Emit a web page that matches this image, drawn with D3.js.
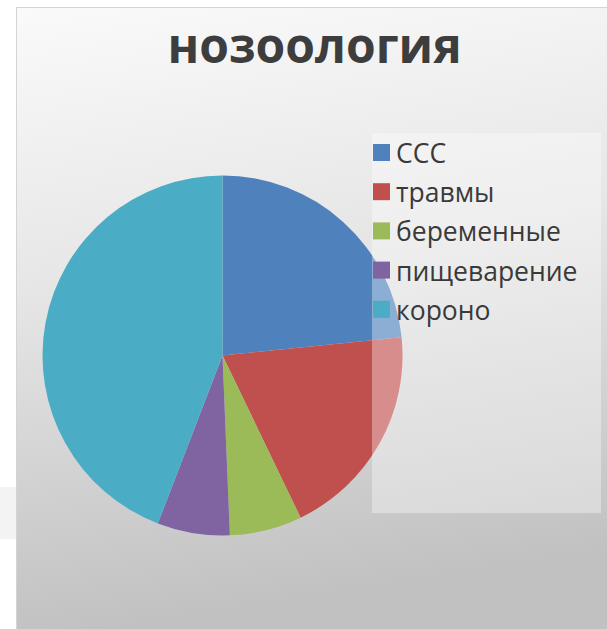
<!DOCTYPE html>
<meta charset="utf-8">
<body style="margin:0;background:#fff">
<script src="https://cdn.jsdelivr.net/npm/d3@7"></script>
<script>
// data
var categories = ["ССС", "травмы", "беременные", "пищеварение", "короно"];
var values = [36, 30, 10, 10, 68];
var colors = ["#4F81BD", "#C0504D", "#9BBB59", "#8064A2", "#4BACC6"];
var title = "нозоология";

var W = 607, H = 629;
var svg = d3.select("body").append("svg")
	.attr("width", W)
	.attr("height", H)
	.style("display", "block");

// background gradient of the chart area
var defs = svg.append("defs");
var grad = defs.append("linearGradient")
	.attr("id", "bg")
	.attr("x1", "0").attr("y1", "0")
	.attr("x2", "0.15").attr("y2", "1");
grad.append("stop").attr("offset", "0%").attr("stop-color", "#fafafa");
grad.append("stop").attr("offset", "45%").attr("stop-color", "#e6e6e6");
grad.append("stop").attr("offset", "100%").attr("stop-color", "#c1c1c1");

// faint band left of the frame
svg.append("rect")
	.attr("x", 0).attr("y", 487).attr("width", 16).attr("height", 52)
	.attr("fill", "#f3f3f3");

svg.append("rect")
	.attr("x", 16.5).attr("y", 7.5)
	.attr("width", W - 16).attr("height", H - 7)
	.attr("fill", "url(#bg)")
	.attr("stroke", "#d4d4d4");

// title
svg.append("text")
	.attr("x", 314.5).attr("y", 63)
	.attr("text-anchor", "middle")
	.attr("font-family", "'Open Sans', sans-serif")
	.attr("font-weight", "bold")
	.attr("font-size", 48)
	.attr("fill", "#3d3d3d")
	.text(title);

// pie
var cx = 222.5, cy = 355.5, r = 180;
var pie = d3.pie().sort(null).value(function(d){ return d; });
var arc = d3.arc().innerRadius(0).outerRadius(r);
var g = svg.append("g").attr("transform", "translate(" + cx + "," + cy + ")");
g.selectAll("path")
	.data(pie(values))
	.enter()
	.append("path")
	.attr("d", arc)
	.attr("fill", function(d, i){ return colors[i]; });

// legend box (semi transparent, lies over the pie)
svg.append("rect")
	.attr("x", 372).attr("y", 133)
	.attr("width", 229).attr("height", 380)
	.attr("fill", "#ffffff")
	.attr("opacity", 0.35);

var legend = svg.append("g");
var rowY = d3.scaleLinear().domain([0, 1]).range([144, 183.2]);
var items = legend.selectAll("g.item")
	.data(categories)
	.enter()
	.append("g")
	.attr("class", "item")
	.attr("transform", function(d, i){ return "translate(373," + rowY(i) + ")"; });
items.append("rect")
	.attr("width", 17).attr("height", 17)
	.attr("fill", function(d, i){ return colors[i]; });
items.append("text")
	.attr("x", 23).attr("y", 19)
	.attr("font-family", "'Open Sans', sans-serif")
	.attr("font-size", 26.5)
	.attr("fill", "#3a3a3a")
	.text(function(d){ return d; });
</script>
</body>
